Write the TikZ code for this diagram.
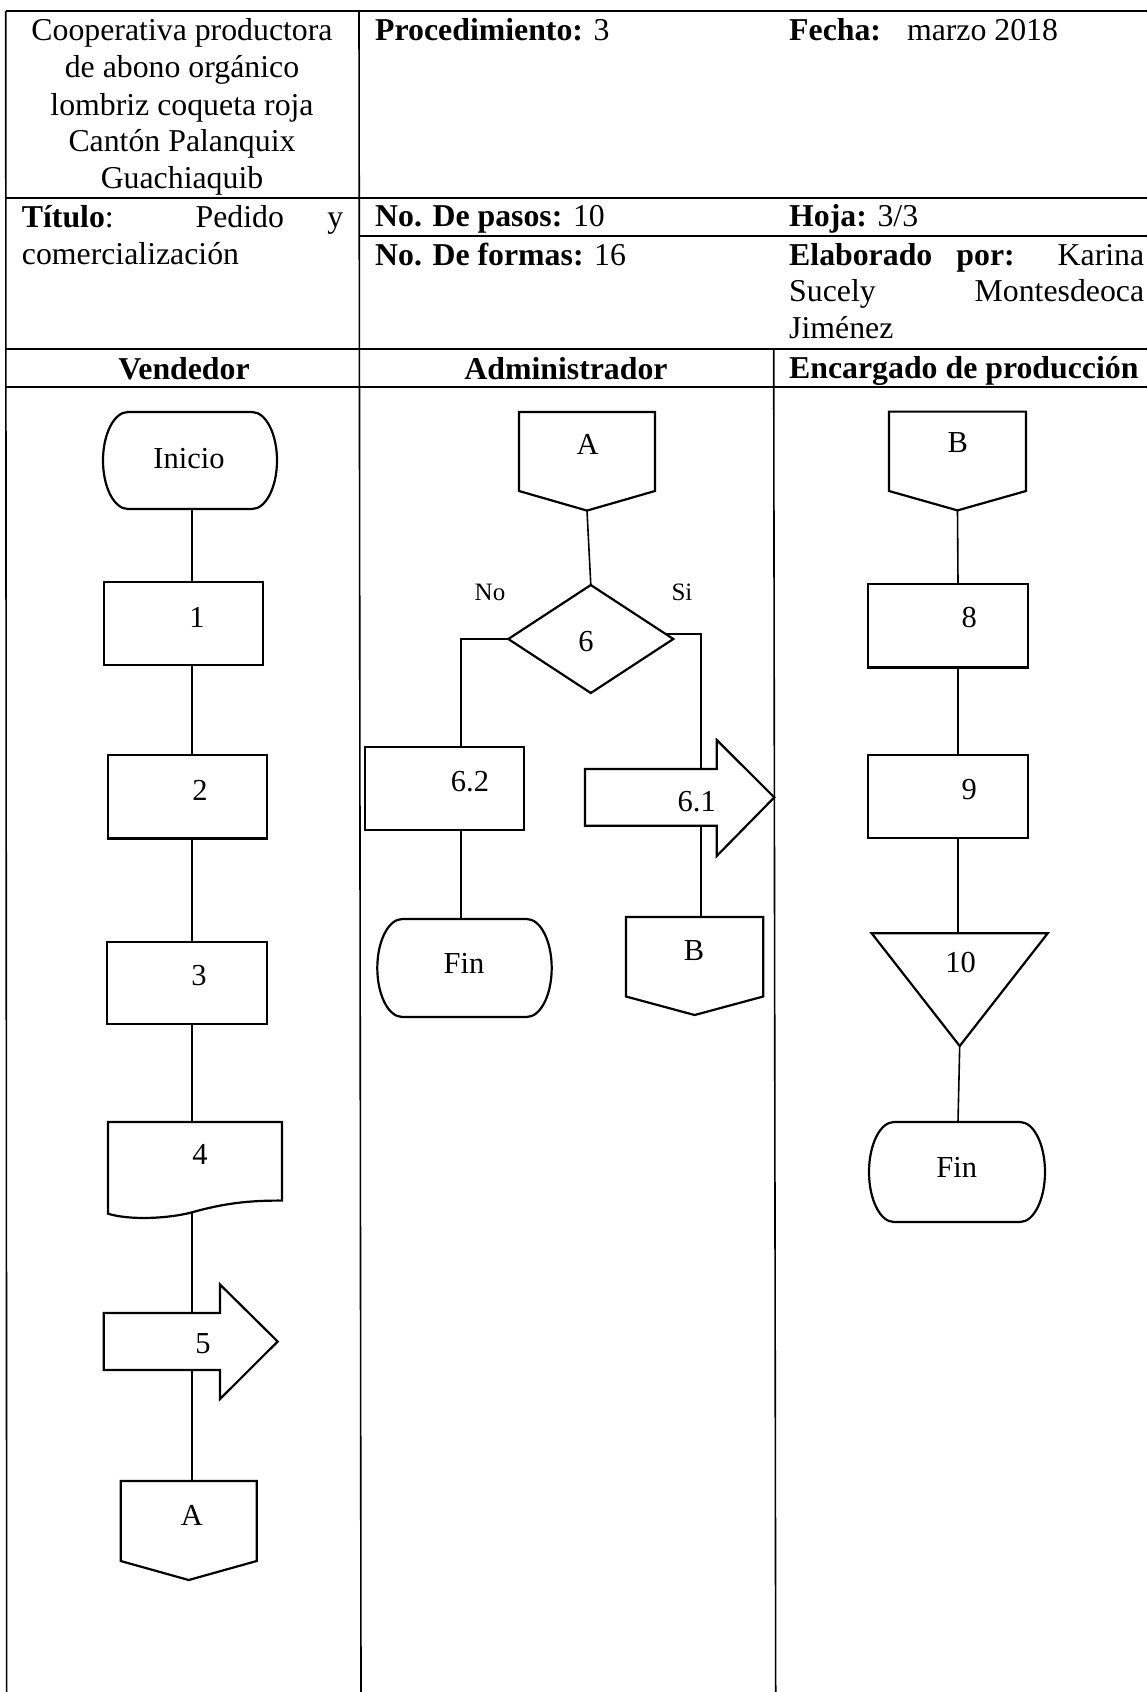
\documentclass[tikz,border=0pt]{standalone}
\usepackage{fontspec}
\setmainfont{Liberation Serif}
\usetikzlibrary{calc}
\tikzset{
  tbl/.style={line width=1.6pt, black},
  shp/.style={line width=2.2pt, black, fill=white, line join=miter},
  con/.style={line width=1.6pt, black},
  fr/.style 2 args={rectangle, draw=none, inner sep=0pt, outer sep=0pt, minimum width=#1pt, minimum height=#2pt},
  txt/.style={inner sep=0pt, font=\fontsize{30.5}{36}\selectfont, text height=20.3pt, text depth=0pt},
  lab/.style={inner sep=0pt, font=\fontsize{25}{30}\selectfont, text height=16.6pt, text depth=0pt},
  hdr/.style={inner sep=0pt, font=\fontsize{31.8}{37}\selectfont}
}
\newcommand\myproc[1]{\draw[shp] (#1.north west) rectangle (#1.south east);}
\newcommand\myterm[2]{\draw[shp] ([xshift=25pt]#1.north west) -- ([xshift=-25pt]#1.north east) arc[start angle=90,end angle=-90,x radius=25pt,y radius=#2pt] -- ([xshift=25pt]#1.south west) arc[start angle=270,end angle=90,x radius=25pt,y radius=#2pt] -- cycle;}
\newcommand\myoffpage[2]{\draw[shp] (#1.north west) -- (#1.north east) -- (#1.south east) -- ([yshift=-#2pt]#1.south) -- (#1.south west) -- cycle;}
\newcommand\myarrow[4]{\draw[shp] (#1.north west) -- (#1.north east) -- ([yshift=#2pt]#1.north east) -- ([xshift=#3pt]#1.east) -- ([yshift=-#4pt]#1.south east) -- (#1.south east) -- (#1.south west) -- cycle;}
\begin{document}
\begin{tikzpicture}[x=1pt,y=-1pt]
\useasboundingbox (0,0) rectangle (1147,1692);
\fill[white] (0,0) rectangle (1147,1692);

% ---------- table ----------
\draw[tbl] (5.7,11) -- (1147,11);
\draw[tbl] (5.7,11) -- (6.7,1692);
\draw[tbl] (359,11) -- (361,1692);
\draw[tbl] (773.7,349) -- (775.7,1692);
\draw[tbl] (5.7,198) -- (1147,198);
\draw[tbl] (359,236) -- (1147,236);
\draw[tbl] (5.7,349) -- (1147,349);
\draw[tbl] (5.7,387) -- (1147,387);

% ---------- header texts ----------
\node[hdr, anchor=base] (h1) at (182,40) {Cooperativa productora};
\node[hdr, anchor=base] (h2) at (182,77.5) {de abono orgánico};
\node[hdr, anchor=base] (h3) at (182,115) {lombriz coqueta roja};
\node[hdr, anchor=base] (h4) at (182,151.7) {Cantón Palanquix};
\node[hdr, anchor=base] (h5) at (182,188.3) {Guachiaquib};
\node[hdr, anchor=base west] (h6) at (21.7,227.7) {\makebox[321.5pt][s]{\textbf{Título}: Pedido y}};
\node[hdr, anchor=base west] (h7) at (21.7,264) {comercialización};
\node[hdr, anchor=base west] (h8) at (375,40.7) {\textbf{Procedimiento:} 3};
\node[hdr, anchor=base west] (h9) at (789,40.7) {\textbf{Fecha:}\hspace*{26pt}marzo 2018};
\node[hdr, anchor=base west] (h10) at (375,226.7) {\textbf{No. De pasos:} 10};
\node[hdr, anchor=base west] (h11) at (789,226.7) {\textbf{Hoja:} 3/3};
\node[hdr, anchor=base west] (h12) at (375,265.5) {\textbf{No. De formas:} 16};
\node[hdr, anchor=base west] (h13) at (789,265) {\makebox[355pt][s]{\textbf{Elaborado} \textbf{por:} Karina}};
\node[hdr, anchor=base west] (h14) at (789,301.7) {\makebox[355pt][s]{Sucely Montesdeoca}};
\node[hdr, anchor=base west] (h15) at (789,338.3) {Jiménez};
\node[hdr, anchor=base] (c1) at (184,379) {\textbf{Vendedor}};
\node[hdr, anchor=base] (c2) at (566,379) {\textbf{Administrador}};
\node[hdr, anchor=base west] (c3) at (789,378.3) {\textbf{Encargado de producción}};

% ---------- frame nodes ----------
% Vendedor
\node[fr={174}{97}] (ini) at (190,460.5) {};
\node[fr={159}{83}] (p1) at (183.8,623.5) {};
\node[fr={159}{83.5}] (p2) at (187.2,796.7) {};
\node[fr={159.4}{82.4}] (p3) at (187,982.8) {};
\node[fr={174}{78.6}] (p4) at (195,1161.3) {};
\coordinate (p4b) at (192,1212.3);
\node[fr={116.3}{57}] (a5) at (161.85,1341.5) {};
\node[fr={136}{80}] (cA1) at (188.7,1521) {};
% Administrador
\node[fr={136}{79}] (cA2) at (587,451.5) {};
\node[fr={165}{108}] (d6) at (590.8,639) {};
\node[fr={159.3}{83}] (p62) at (444.7,788.5) {};
\node[fr={174.4}{98}] (fin1) at (464.5,968) {};
\node[fr={131.7}{56.7}] (a61) at (650.85,797.35) {};
\node[fr={137.3}{79.5}] (cB1) at (694.65,956.75) {};
% Encargado
\node[fr={137}{79.4}] (cB2) at (957.5,451.3) {};
\node[fr={160.6}{83.8}] (p8) at (948,625.6) {};
\node[fr={160}{83.2}] (p9) at (947.7,796.2) {};
\node[fr={176}{112.7}] (t10) at (959.7,989.65) {};
\node[fr={176}{100}] (fin2) at (957,1172) {};

% ---------- connectors ----------
\coordinate (vx) at (192,0);
\draw[con] (vx |- ini.south) -- (vx |- p1.north);
\draw[con] (vx |- p1.south) -- (vx |- p2.north);
\draw[con] (vx |- p2.south) -- (vx |- p3.north);
\draw[con] (vx |- p3.south) -- (vx |- p4.north);
\draw[con] (p4b) -- (vx |- a5.north);
\draw[con] (vx |- a5.south) -- (vx |- cA1.north);

\draw[con] ([yshift=-19.6pt]cA2.south) -- (d6.north);
\coordinate (nx) at (461,0);
\draw[con] (d6.west) -| (nx |- p62.north);
\draw[con] (nx |- p62.south) -- (nx |- fin1.north);
\coordinate (sx) at (701,0);
\draw[con] ($(d6.east)!0.09!(d6.north)$) -| (sx |- cB1.north);

\coordinate (ex) at (958,0);
\draw[con] ([yshift=-19.4pt]cB2.south) -- (ex |- p8.north);
\draw[con] (ex |- p8.south) -- (ex |- p9.north);
\draw[con] (ex |- p9.south) -- (ex |- t10.north);
\draw[con] (t10.south) -- (ex |- fin2.north);

% ---------- shapes ----------
\myterm{ini}{48.5}
\myproc{p1}
\myproc{p2}
\myproc{p3}
\draw[shp] (p4.north west) -- (p4.north east) -- (p4.south east)
  .. controls (240,1200.2) and (215,1206) .. (p4b)
  .. controls (169,1218.5) and (130,1220.5) .. (108,1213.7) -- cycle;
\myarrow{a5}{28.5}{57.7}{29}
\myoffpage{cA1}{19}

\myoffpage{cA2}{19.6}
\draw[shp] (d6.north) -- (d6.east) -- (d6.south) -- (d6.west) -- cycle;
\myproc{p62}
\myterm{fin1}{49}
\myarrow{a61}{29}{57.6}{30.3}
\myoffpage{cB1}{18.5}

\myoffpage{cB2}{19.4}
\myproc{p8}
\myproc{p9}
\draw[shp] (t10.north west) -- (t10.north east) -- (t10.south) -- cycle;
\myterm{fin2}{50}

% ---------- shape texts ----------
\node[txt] (tini) at (189,458) {Inicio};
\node[txt] (t1) at (197,617) {1};
\node[txt] (t2) at (200,790) {2};
\node[txt] (t3) at (199,975) {3};
\node[txt] (t4) at (200,1154) {4};
\node[txt] (t5) at (203,1343.5) {5};
\node[txt] (tA1) at (192,1515) {A};

\node[txt] (tA2) at (587.7,444) {A};
\node[txt] (t6) at (586,641) {6};
\node[lab] (tno) at (490,592) {No};
\node[lab] (tsi) at (682,592) {Si};
\node[txt] (t62) at (470,781) {6.2};
\node[txt] (tfin1) at (464,963.7) {Fin};
\node[txt] (t61) at (696.7,801) {6.1};
\node[txt] (tB1) at (694,950) {B};

\node[txt] (tB2) at (957.7,442.7) {B};
\node[txt] (t8) at (969.3,617.5) {8};
\node[txt] (t9) at (969.3,789) {9};
\node[txt] (t10t) at (960.7,962.7) {10};
\node[txt] (tfin2) at (956.7,1167) {Fin};
\end{tikzpicture}
\end{document}
